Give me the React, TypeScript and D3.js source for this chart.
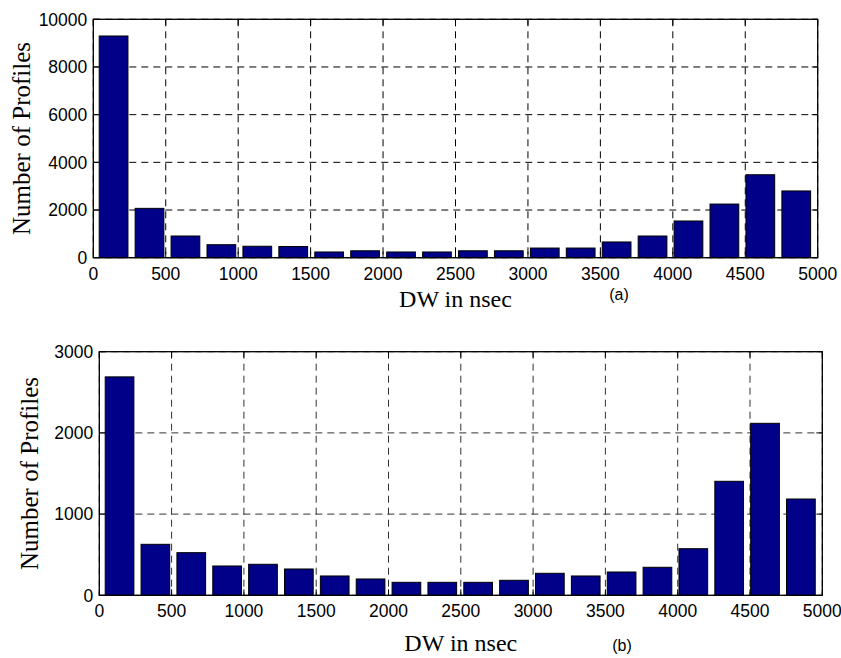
import React from "react";
import * as d3 from "d3";

// Histogram bin centres (DW in nsec)
const binCenters = [140, 388, 636, 884, 1132, 1380, 1628, 1876, 2124, 2372, 2620, 2868, 3116, 3364, 3612, 3860, 4108, 4356, 4604, 4852];
const binWidth = 248;

// Panel (a) counts
const countsA = [9300, 2070, 910, 545, 480, 470, 240, 290, 240, 240, 290, 290, 405, 405, 660, 910, 1540, 2250, 3480, 2800];
// Panel (b) counts
const countsB = [2690, 628, 525, 361, 382, 324, 238, 201, 160, 160, 160, 185, 271, 238, 287, 345, 574, 1404, 2118, 1186];

const xTicks = [0, 500, 1000, 1500, 2000, 2500, 3000, 3500, 4000, 4500, 5000];
const yTicksA = [0, 2000, 4000, 6000, 8000, 10000];
const yTicksB = [0, 1000, 2000, 3000];

const xLabel = "DW in nsec";
const yLabel = "Number of Profiles";

type PanelProps = {
  counts: number[];
  yTicks: number[];
  yMax: number;
  left: number;
  right: number;
  top: number;
  bottom: number;
  tickBaseline: number;
  xLabelBaseline: number;
  yLabelX: number;
  tag: string;
  tagX: number;
  tagY: number;
  gridColor: string;
};

const BAR = "#000088";
const SANS = "'Liberation Sans', Arial, sans-serif";
const SERIF = "'Liberation Serif', 'Times New Roman', serif";

function Panel(p: PanelProps) {
  const x = d3.scaleLinear().domain([0, 5000]).range([p.left, p.right]);
  const y = d3.scaleLinear().domain([0, p.yMax]).range([p.bottom, p.top]);
  const tl = 6;
  const bw = x(binWidth * 0.8) - x(0);
  return (
    <g>
      {/* grid */}
      {xTicks.map((t) => (
        <line key={"gx" + t} x1={x(t)} x2={x(t)} y1={p.top} y2={p.bottom} stroke={p.gridColor} strokeWidth={1} strokeDasharray="7,5" />
      ))}
      {p.yTicks.map((t) => (
        <line key={"gy" + t} x1={p.left} x2={p.right} y1={y(t)} y2={y(t)} stroke={p.gridColor} strokeWidth={1} strokeDasharray="7,5" />
      ))}
      {/* bars */}
      {p.counts.map((c, i) => (
        <rect
          key={"b" + i}
          x={x(binCenters[i]) - bw / 2}
          y={y(c)}
          width={bw}
          height={p.bottom - y(c)}
          fill={BAR}
          stroke="#000"
          strokeWidth={1}
        />
      ))}
      {/* box */}
      <rect x={p.left} y={p.top} width={p.right - p.left} height={p.bottom - p.top} fill="none" stroke="#000" strokeWidth={1.3} />
      {/* ticks */}
      {xTicks.map((t) => (
        <g key={"tx" + t}>
          <line x1={x(t)} x2={x(t)} y1={p.bottom} y2={p.bottom - tl} stroke="#000" />
          <line x1={x(t)} x2={x(t)} y1={p.top} y2={p.top + tl} stroke="#000" />
          <text x={x(t)} y={p.tickBaseline} textAnchor="middle" fontFamily={SANS} fontSize={17.5} fill="#000">
            {t}
          </text>
        </g>
      ))}
      {p.yTicks.map((t) => (
        <g key={"ty" + t}>
          <line x1={p.left} x2={p.left + tl} y1={y(t)} y2={y(t)} stroke="#000" />
          <line x1={p.right} x2={p.right - tl} y1={y(t)} y2={y(t)} stroke="#000" />
          <text x={p.left - 6} y={y(t) + 6.3} textAnchor="end" fontFamily={SANS} fontSize={17.5} fill="#000">
            {t}
          </text>
        </g>
      ))}
      {/* labels */}
      <text x={(p.left + p.right) / 2} y={p.xLabelBaseline} textAnchor="middle" fontFamily={SERIF} fontSize={24} fill="#000">
        {xLabel}
      </text>
      <text
        transform={`translate(${p.yLabelX},${(p.top + p.bottom) / 2}) rotate(-90)`}
        textAnchor="middle"
        fontFamily={SERIF}
        fontSize={25}
        fill="#000"
      >
        {yLabel}
      </text>
      <text x={p.tagX} y={p.tagY} textAnchor="middle" fontFamily={SANS} fontSize={16} fill="#000">
        {p.tag}
      </text>
    </g>
  );
}

export default function App() {
  return (
    <svg width={841} height={658} style={{ position: "absolute", left: 0, top: 0, background: "#fff" }}>
      <rect x={0} y={0} width={841} height={658} fill="#fff" />
      <Panel
        counts={countsA}
        yTicks={yTicksA}
        yMax={10000}
        left={93.3}
        right={817.7}
        top={19.3}
        bottom={257.7}
        tickBaseline={280}
        xLabelBaseline={307}
        yLabelX={29.5}
        tag="(a)"
        tagX={619}
        tagY={300}
        gridColor="#000"
      />
      <Panel
        counts={countsB}
        yTicks={yTicksB}
        yMax={3000}
        left={99.3}
        right={822.3}
        top={351.7}
        bottom={595.3}
        tickBaseline={617}
        xLabelBaseline={651}
        yLabelX={38}
        tag="(b)"
        tagX={622}
        tagY={651}
        gridColor="#333"
      />
    </svg>
  );
}
